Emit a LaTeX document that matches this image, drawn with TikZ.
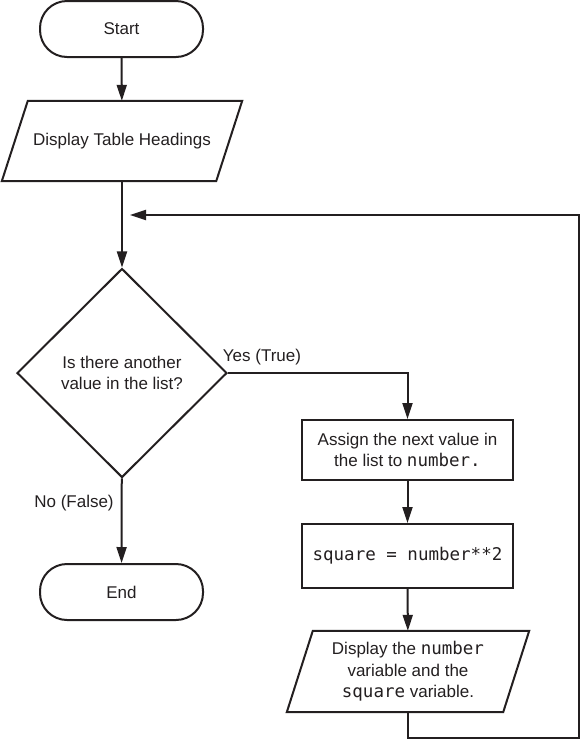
\documentclass[tikz,border=0pt]{standalone}
\usepackage{fontspec}
\setmainfont{Liberation Sans}
\newfontfamily\mono[Scale=1.03]{DejaVu Sans Mono}
\usetikzlibrary{shapes.geometric,arrows.meta}
\definecolor{ink}{HTML}{231F20}
\begin{document}
\begin{tikzpicture}[x=1pt,y=-1pt,
  every node/.style={font=\fontsize{17}{21.5}\selectfont, text=ink},
  line/.style={draw=ink, line width=2pt},
  arr/.style={line, -{Triangle[length=16pt,width=10pt]}},
  term/.style={draw=ink, line width=2pt, rectangle, rounded corners=27pt, minimum width=163pt, minimum height=56pt, inner sep=0pt},
  proc/.style={draw=ink, line width=2pt, rectangle, minimum width=211pt, inner sep=0pt, align=center},
  iobox/.style={rectangle, minimum width=214pt, minimum height=80pt, inner sep=0pt, align=center},
  decide/.style={draw=ink, line width=2pt, diamond, aspect=1, minimum width=210pt, minimum height=209pt, inner sep=0pt, align=center},
  lbl/.style={inner sep=0pt}
]
\useasboundingbox (0,0) rectangle (582,740);

\node[term] (start) at (121.5,29) {Start};
\node[iobox] (disp) at (122,141) {Display Table Headings};
\draw[line] ([xshift=13pt]disp.north west) -- ([xshift=13pt]disp.north east)
  -- ([xshift=-13pt]disp.south east) -- ([xshift=-13pt]disp.south west) -- cycle;

\node[decide] (dec) at (122,373) {Is there another\\value in the list?};

\node[proc, minimum height=60pt] (assign) at (407.5,450) {Assign the next value in\\the list to {\mono number.}};
\node[proc, minimum height=64pt] (sq) at (407.5,556) {{\mono square = number**2}};

\node[iobox, minimum width=216pt, minimum height=81pt] (disp2) at (408,671.5) {Display the {\mono number}\\variable and the\\{\mono square} variable.};
\draw[line] ([xshift=13pt]disp2.north west) -- ([xshift=13pt]disp2.north east)
  -- ([xshift=-13pt]disp2.south east) -- ([xshift=-13pt]disp2.south west) -- cycle;

\node[term] (end) at (121.5,592) {End};

\node[lbl] (yes) at (262,357) {Yes (True)};
\node[lbl] (no) at (74,503) {No (False)};

\coordinate (c1) at (408,738);
\coordinate (c2) at (579,738);
\coordinate (c3) at (579,215);
\coordinate (loopend) at (130,215);

\draw[arr] (start) -- (disp);
\draw[arr] (disp) -- (dec);
\draw[arr] (dec.east) -| (assign.north);
\draw[arr] (assign) -- (sq);
\draw[arr] (sq) -- (disp2);
\draw[arr] (dec) -- (end);
\draw[arr] (disp2.south) -- (c1) -- (c2) -- (c3) -- (loopend);
\end{tikzpicture}
\end{document}
